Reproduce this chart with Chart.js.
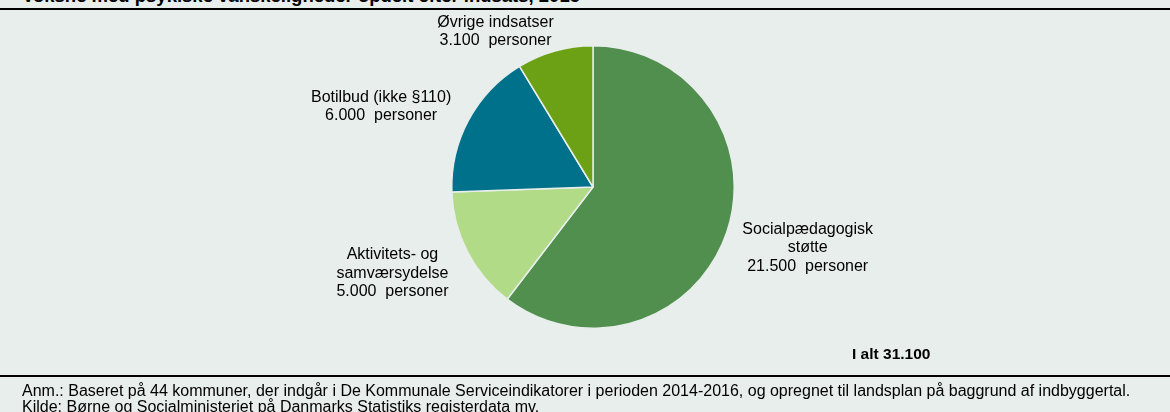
<!DOCTYPE html>
<html>
<head>
<meta charset="utf-8">
<script src="https://cdn.jsdelivr.net/npm/chart.js@4/dist/chart.umd.min.js"></script>
<style>
  html, body { margin: 0; padding: 0; }
  body { width: 1170px; height: 412px; overflow: hidden; background: #e8eeeb; position: relative;
         font-family: "Liberation Sans", Arial, sans-serif; color: #000; }
  #title { position: absolute; left: 22px; top: -13px; font-size: 18.5px; font-weight: bold; line-height: 18px; white-space: nowrap; }
  .rule { position: absolute; left: 0; width: 1170px; height: 2px; background: #000; }
  #chartBox { position: absolute; left: 0; top: 0; width: 1170px; height: 376px; }
  #total { position: absolute; left: 852px; top: 345px; font-size: 15.5px; font-weight: bold; white-space: nowrap; }
  #notes { position: absolute; left: 22px; top: 383px; font-size: 16px; line-height: 15.5px; white-space: nowrap; }
</style>
</head>
<body>
<div id="title">Voksne med psykiske vanskeligheder opdelt efter indsats, 2015</div>
<div class="rule" style="top:8px"></div>
<div id="chartBox"><canvas id="chart"></canvas></div>
<div id="total">I alt 31.100</div>
<div class="rule" style="top:375px"></div>
<div id="notes">
  Anm.: Baseret på 44 kommuner, der indgår i De Kommunale Serviceindikatorer i perioden 2014-2016, og opregnet til landsplan på baggrund af indbyggertal.<br>
  Kilde: Børne og Socialministeriet på Danmarks Statistiks registerdata mv.
</div>
<script>
// data
const categories = [
  ['Socialpædagogisk', 'støtte'],
  ['Aktivitets- og', 'samværsydelse'],
  ['Botilbud (ikke §110)'],
  ['Øvrige indsatser']
];
const persons = [21500, 5000, 6000, 3100];
const sliceColors = ['#518f4f', '#b1db86', '#00718a', '#6ca115'];
// where each label block sits, in pie radii from the centre
const labelSpots = [[1.52, 0.43], [-1.42, 0.61], [-1.50, -0.57], [-0.69, -1.10]];

const fmt = v => v.toLocaleString('da-DK');

const sliceLabels = {
  id: 'sliceLabels',
  afterDraw(chart) {
    const ctx = chart.ctx;
    const arcs = chart.getDatasetMeta(0).data;
    if (!arcs.length) return;
    const cx = arcs[0].x, cy = arcs[0].y, r = arcs[0].outerRadius;
    ctx.save();
    ctx.font = '16px "Liberation Sans", Arial, sans-serif';
    ctx.fillStyle = '#000';
    ctx.textAlign = 'center';
    ctx.textBaseline = 'middle';
    const lh = 18.5;
    categories.forEach((lines, i) => {
      const all = lines.concat([fmt(persons[i]) + '  personer']);
      const x = cx + labelSpots[i][0] * r;
      const y0 = cy + labelSpots[i][1] * r - (all.length - 1) * lh / 2;
      all.forEach((t, j) => ctx.fillText(t, x, y0 + j * lh));
    });
    ctx.restore();
  }
};

new Chart(document.getElementById('chart'), {
  type: 'pie',
  data: {
    labels: categories.map(c => c.join(' ')),
    datasets: [{
      data: persons,
      backgroundColor: sliceColors,
      borderColor: '#e8eeeb',
      borderWidth: 1.5
    }]
  },
  options: {
    responsive: true,
    maintainAspectRatio: false,
    animation: false,
    layout: { padding: { top: 45, bottom: 47, left: 16, right: 0 } },
    plugins: {
      legend: { display: false },
      tooltip: { enabled: false }
    }
  },
  plugins: [sliceLabels]
});
</script>
</body>
</html>
